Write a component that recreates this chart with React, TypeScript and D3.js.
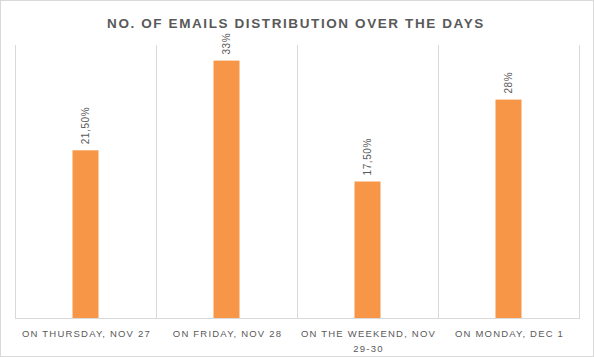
import React from "react";
import * as d3 from "d3";

const categories: string[][] = [
  ["ON THURSDAY, NOV 27"],
  ["ON FRIDAY, NOV 28"],
  ["ON THE WEEKEND, NOV", "29-30"],
  ["ON MONDAY, DEC 1"],
];
const values: number[] = [21.5, 33, 17.5, 28];
const valueLabels: string[] = ["21,50%", "33%", "17,50%", "28%"];
const yMax = 35;
const title = "NO. OF EMAILS DISTRIBUTION OVER THE DAYS";

const W = 594;
const H = 357;
const left = 15;
const right = 579;
const top = 45;
const bottom = 318;
const grid = "#d9d9d9";
const textColor = "#595959";
const barColor = "#F79646";
const font = "'Liberation Sans', Arial, sans-serif";

export default function App() {
  const x = d3
    .scaleBand<number>()
    .domain(d3.range(categories.length))
    .range([left, right])
    .paddingInner(0)
    .paddingOuter(0);
  const y = d3.scaleLinear().domain([0, yMax]).range([bottom, top]);
  const barW = 26;
  const bounds = d3.range(categories.length + 1).map((i) => left + i * x.step());

  return (
    <div style={{ position: "fixed", left: 0, top: 0 }}>
      <svg width={W} height={H} style={{ display: "block", background: "#fff" }}>
        <rect x={0.5} y={0.5} width={W - 1} height={H - 1} fill="#fff" stroke={grid} />
        <text
          x={296}
          y={28}
          textAnchor="middle"
          fontFamily={font}
          fontWeight="bold"
          fontSize={13.5}
          letterSpacing={1.6}
          fill={textColor}
        >
          {title}
        </text>
        {bounds.map((bx, i) => (
          <line key={i} x1={bx + 0.5} x2={bx + 0.5} y1={top} y2={bottom} stroke={grid} />
        ))}
        <line x1={left} x2={right + 1} y1={bottom + 0.5} y2={bottom + 0.5} stroke={grid} />
        {values.map((v, i) => {
          const cx = (x(i) as number) + x.bandwidth() / 2;
          return (
            <g key={i}>
              <rect x={cx - barW / 2} y={y(v)} width={barW} height={bottom - y(v)} fill={barColor} />
              <text
                transform={`translate(${cx + 3.5},${y(v) - 6}) rotate(-90)`}
                fontFamily={font}
                fontSize={10}
                letterSpacing={0.6}
                fill={textColor}
              >
                {valueLabels[i]}
              </text>
            </g>
          );
        })}
        {categories.map((lines, i) => {
          const cx = (x(i) as number) + x.bandwidth() / 2;
          return (
            <text
              key={i}
              textAnchor="middle"
              fontFamily={font}
              fontSize={9.5}
              letterSpacing={1.2}
              fill={textColor}
            >
              {lines.map((l, j) => (
                <tspan key={j} x={cx + 1} y={337 + j * 15}>
                  {l}
                </tspan>
              ))}
            </text>
          );
        })}
      </svg>
    </div>
  );
}
